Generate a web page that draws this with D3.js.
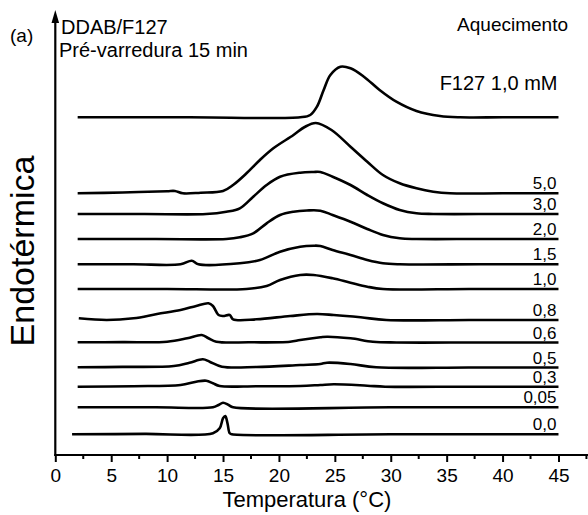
<!DOCTYPE html>
<html>
<head>
<meta charset="utf-8">
<script src="https://cdn.jsdelivr.net/npm/d3@7"></script>
<style>
  body { margin: 0; background: #fff; }
  text { font-family: "Liberation Sans", Arial, sans-serif; fill: #000; }
</style>
</head>
<body>
<div id="chart"></div>
<script>
// DSC heating curves, DDAB/F127 (arbitrary heat-flow units)
const seriesLabels = ['F127 1,0 mM', '5,0', '3,0', '2,0', '1,5', '1,0', '0,8', '0,6', '0,5', '0,3', '0,05', '0,0'];
// vertical offset of each curve (stacked baseline)
const offsets = [337.7, 261.7, 241, 216, 190.7, 166, 135, 112.5, 87.5, 68.3, 47.7, 20.7];

// [temperature °C, deflection above baseline]
const curveF127 = [[2,0],[12,0],[21.9,0],[22.8,2.3],[23.4,10.6],[24,27.3],[24.6,42.3],[25.5,50.6],[26.4,49],[27.6,40.6],[29,27.3],[30.5,15.6],[32.3,6.3],[34.4,1.3],[36.2,0],[40,0],[45,0]];
const curve50 = [[2,0],[6,0.8],[10,2.1],[10.7,2.3],[11.4,0],[13,0.6],[15,2.3],[15.9,8.3],[17.1,20],[18.3,33.3],[19.5,45],[21.3,58.3],[22.3,66.3],[23.3,70.3],[24.7,63.3],[26.4,46.6],[27.9,31.6],[29.3,18.3],[30.8,10],[32.3,5],[33.8,1.6],[35.3,0],[40,0],[45,0]];
const curve30 = [[2,0],[8,0],[13.5,0],[15.3,2.3],[16.5,5.7],[17.7,17.3],[18.9,29],[20.1,37.3],[21.9,41.3],[23.1,42],[23.7,42],[24.8,37.3],[26.4,29],[27.9,19],[29.3,10.7],[30.8,4],[32.3,0.7],[33.8,0],[40,0],[45,0]];
const curve20 = [[2,0],[9,0],[15.3,0],[16.5,1.7],[17.7,5.7],[18.9,15.7],[20.1,24],[21.3,27.3],[22.5,28.5],[23.7,28.3],[24.8,24],[26.4,17.3],[27.9,10],[29.3,4],[30.8,0.7],[32.3,0],[38,0],[45,0]];
const curve15 = [[2,0],[7,0],[11.2,0],[12.2,3.6],[12.8,0],[16.5,1],[18.3,4.3],[20.1,12.6],[21.9,17.6],[23.1,18.6],[23.7,18.3],[24.8,14.3],[26.4,9.3],[27.9,4.3],[29.3,1],[30.8,0],[38,0],[45,0]];
const curve10 = [[2,0],[10,0],[17.1,0],[18.9,3],[20.1,9],[21.9,14],[23.1,14],[24.8,10.7],[26.4,6.3],[27.9,2.3],[29.3,0],[37,0],[45,0]];
const curve08 = [[2.1,1.7],[4.6,0],[7,1.7],[9.1,6],[11.2,10],[12.6,14],[13.7,16.7],[14.1,14],[14.6,5],[15,4],[15.6,5],[15.9,0.7],[18,0.7],[21,4],[23.4,6],[24.9,5],[27.3,2.7],[29.6,0],[37,0],[45,0]];
const curve06 = [[2,0.2],[6,0.4],[10,0.8],[11.8,4.2],[13.1,7.5],[13.7,4.2],[14.4,0.8],[17.3,0.2],[21,0.8],[21.9,2.5],[23.7,5.2],[24.3,5.8],[26.4,4.2],[28.4,0.8],[30.5,0],[38,0],[45,0]];
const curve05 = [[2,0.2],[6,0.6],[10.6,1.5],[12,4.8],[13.2,8.2],[13.8,5.8],[14.9,0.8],[18,0.5],[21.9,2.5],[23.7,3.5],[24.3,4.8],[26.4,3.5],[28.7,0.2],[37,0],[45,0]];
const curve03 = [[2,0],[7,0.5],[11.2,1.7],[12.6,5],[13.5,6],[14.1,3.4],[14.7,0.7],[18,0.5],[21.9,0.7],[23.7,1.7],[24.9,2.4],[27.9,1],[29.5,0],[37,0],[45,0]];
const curve005 = [[2,0],[9,0],[14.1,0],[14.6,2.3],[15,4.6],[15.5,2.3],[15.9,0],[30,0],[45,0]];
const curve00 = [[1.5,0],[8,0.4],[14.1,1],[14.7,6],[15,16],[15.2,18.3],[15.4,11],[15.6,1],[15.8,0],[30,0],[45,0]];

const curves = [curveF127, curve50, curve30, curve20, curve15, curve10, curve08, curve06, curve05, curve03, curve005, curve00];

const xMajorTicks = [0, 5, 10, 15, 20, 25, 30, 35, 40, 45];
const xMinorTicks = [2.5, 7.5, 12.5, 17.5, 22.5, 27.5, 32.5, 37.5, 42.5, 47.5];

const width = 588, height = 515;
const font = '"Liberation Sans", Arial, sans-serif';

const svg = d3.select('#chart').append('svg')
  .attr('width', width)
  .attr('height', height);

const x = d3.scaleLinear().domain([0, 47.64]).range([55.3, 588]);
const y = d3.scaleLinear().domain([0, 445]).range([455, 10]);

// curves
const line = d3.line()
  .x(d => x(d[0]))
  .y(d => d[1])
  .curve(d3.curveCatmullRom.alpha(0.5));

curves.forEach((c, i) => {
  const pts = c.map(p => [p[0], y(offsets[i] + p[1])]);
  svg.append('path')
    .attr('d', line(pts))
    .attr('fill', 'none')
    .attr('stroke', '#000')
    .attr('stroke-width', 2.6)
    .attr('stroke-linejoin', 'round');
});

// series labels (except F127, placed separately)
svg.selectAll('.lab')
  .data(seriesLabels.slice(1))
  .join('text')
  .attr('class', 'lab')
  .attr('x', x(45) - 2)
  .attr('y', (d, i) => y(offsets[i + 1]) - 4)
  .attr('text-anchor', 'end')
  .attr('font-size', 17)
  .text(d => d);

svg.append('text')
  .attr('x', x(45) - 1)
  .attr('y', 90)
  .attr('text-anchor', 'end')
  .attr('font-size', 20)
  .text(seriesLabels[0]);

// x axis
const axisY = y(0);
const xAxis = svg.append('g')
  .attr('transform', `translate(0,${axisY})`)
  .call(d3.axisBottom(x).tickValues(xMajorTicks).tickSize(7).tickPadding(6).tickFormat(d3.format('d')));
xAxis.select('.domain').remove();
xAxis.selectAll('line').attr('stroke-width', 2);
xAxis.selectAll('text').attr('font-size', 19).attr('font-family', font).attr('dy', '0.72em');

svg.append('g')
  .attr('transform', `translate(0,${axisY})`)
  .selectAll('line')
  .data(xMinorTicks)
  .join('line')
  .attr('x1', d => x(d)).attr('x2', d => x(d))
  .attr('y1', 0).attr('y2', 4)
  .attr('stroke', '#000')
  .attr('stroke-width', 2);

svg.append('line')
  .attr('x1', x(0) - 1).attr('x2', width)
  .attr('y1', axisY).attr('y2', axisY)
  .attr('stroke', '#000').attr('stroke-width', 2.2);

// y axis with arrow
const ax = x(0);
svg.append('line')
  .attr('x1', ax).attr('x2', ax)
  .attr('y1', axisY + 1).attr('y2', 18)
  .attr('stroke', '#000').attr('stroke-width', 2.2);
svg.append('path')
  .attr('d', `M${ax},10 L${ax + 3.8},23 L${ax - 3.8},23 Z`)
  .attr('fill', '#000');

// texts
svg.append('text').attr('x', 10).attr('y', 42).attr('font-size', 19).text('(a)');
svg.append('text').attr('x', 61).attr('y', 34).attr('font-size', 20).text('DDAB/F127');
svg.append('text').attr('x', 59).attr('y', 57).attr('font-size', 20).text('Pré-varredura 15 min');
svg.append('text').attr('x', 568).attr('y', 31).attr('text-anchor', 'end').attr('font-size', 19).text('Aquecimento');

svg.append('text')
  .attr('transform', 'translate(34,251) rotate(-90)')
  .attr('text-anchor', 'middle')
  .attr('font-size', 34)
  .text('Endotérmica');

svg.append('text')
  .attr('x', (x(0) + x(45)) / 2)
  .attr('y', 507)
  .attr('text-anchor', 'middle')
  .attr('font-size', 22)
  .text('Temperatura (°C)');
</script>
</body>
</html>
